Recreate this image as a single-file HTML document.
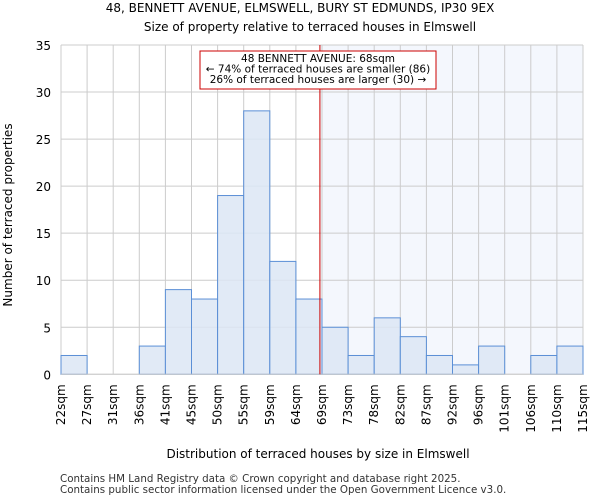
<!DOCTYPE html>
<html><head><meta charset="utf-8"><style>
body{margin:0;background:#fff;font-family:"DejaVu Sans","Liberation Sans",sans-serif;}
</style></head><body>
<svg width="600" height="500" xmlns="http://www.w3.org/2000/svg" font-family="DejaVu Sans, Liberation Sans, sans-serif">
<g id="grid"></g>
<g id="bars"></g>
<g id="axes"></g>
<text x="300" y="12" text-anchor="middle" font-size="12">48, BENNETT AVENUE, ELMSWELL, BURY ST EDMUNDS, IP30 9EX</text>
<text x="310" y="31" text-anchor="middle" font-size="12">Size of property relative to terraced houses in Elmswell</text>
<text x="318" y="458" text-anchor="middle" font-size="12">Distribution of terraced houses by size in Elmswell</text>
<text transform="translate(12,215) rotate(-90)" text-anchor="middle" font-size="12">Number of terraced properties</text>
<text x="60" y="482" font-size="10.3" fill="#333">Contains HM Land Registry data © Crown copyright and database right 2025.</text>
<text x="60" y="493" font-size="10.3" fill="#333">Contains public sector information licensed under the Open Government Licence v3.0.</text>
</svg>
<script>
const categories=["22sqm","27sqm","31sqm","36sqm","41sqm","45sqm","50sqm","55sqm","59sqm","64sqm","69sqm","73sqm","78sqm","82sqm","87sqm","92sqm","96sqm","101sqm","106sqm","110sqm","115sqm"];
const counts=[2,0,0,3,9,8,19,28,12,8,5,2,6,4,2,1,3,0,2,3];
const yTicks=[0,5,10,15,20,25,30,35];
const markerBin=9.92;
const NS="http://www.w3.org/2000/svg";
const L=61,R=583,T=45,B=374.3,yMax=35;
const bw=(R-L)/counts.length;
const xs=i=>L+i*bw, ys=v=>B-(v/yMax)*(B-T);
function mk(tag,at,parent){const e=document.createElementNS(NS,tag);for(const k in at)e.setAttribute(k,at[k]);document.getElementById(parent).appendChild(e);return e;}
const mx=xs(markerBin);
let sh=mk('rect',{x:mx,y:T,width:R-mx,height:B-T,fill:'#f4f7fd'},'grid');


yTicks.forEach(t=>{let l=mk('line',{x1:L,x2:R,y1:ys(t),y2:ys(t),stroke:'#ccc'},'grid');


let tx=mk('text',{x:L-10,y:ys(t)+5,'text-anchor':'end','font-size':'12'},'axes');tx.textContent=t;

});
categories.forEach((c,i)=>{let l=mk('line',{x1:xs(i),x2:xs(i),y1:T,y2:B,stroke:'#ccc'},'grid');


let tx=mk('text',{transform:`translate(${xs(i)+4},${B+10}) rotate(-90)`,'text-anchor':'end','font-size':'12'},'axes');tx.textContent=c;

});
counts.forEach((v,i)=>{if(v<=0)return;let r=mk('rect',{x:xs(i),y:ys(v),width:bw,height:B-ys(v),fill:'#dce6f4','fill-opacity':0.85,stroke:'#5b8fd6','stroke-width':1},'bars');

});
let ax=mk('line',{x1:L,x2:R,y1:B,y2:B,stroke:'#ccc'},'axes');


let ml=mk('line',{x1:mx,x2:mx,y1:T,y2:B,stroke:'#c00','stroke-width':1},'axes');


let box=mk('rect',{x:200,y:51,width:236,height:38,fill:'#fff',stroke:'#c00'},'axes');


["48 BENNETT AVENUE: 68sqm","← 74% of terraced houses are smaller (86)","26% of terraced houses are larger (30) →"].forEach((s,k)=>{let t=mk('text',{x:318,y:62+k*10.5,'text-anchor':'middle','font-size':'10.5'},'axes');t.textContent=s;

});
</script>
</body></html>
